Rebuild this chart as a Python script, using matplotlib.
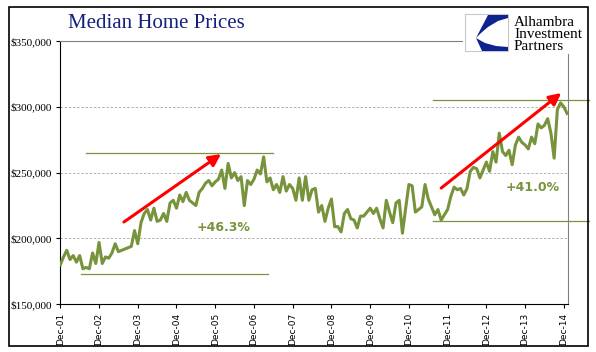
import matplotlib
matplotlib.use("Agg")
import matplotlib.pyplot as plt
from matplotlib.patches import Rectangle, Polygon

# monthly median home price, $000s, Dec-01 onward
prices = [
    180, 186, 191, 184, 187, 182, 187, 177, 178, 177, 189, 181,
    197, 181, 186, 185, 189, 196, 190, 191, 192, 193, 194, 206,
    196, 212, 219, 222, 214, 223, 213, 214, 219, 213, 227, 229,
    223, 233, 228, 235, 229, 227, 225, 235, 238, 242, 244, 240,
    243, 245, 252, 238, 257, 246, 250, 244, 247, 225, 244, 241,
    245, 252, 249, 262, 243, 246, 237, 241, 235, 247, 236, 241,
    238, 229, 246, 229, 247, 229, 237, 238, 220, 225, 213, 223,
    230, 209, 209, 205, 219, 222, 215, 214, 208, 217, 217, 220,
    223, 219, 223, 215, 208, 229, 220, 212, 227, 229, 204, 223,
    241, 240, 220, 222, 224, 241, 230, 224, 218, 222, 214, 218,
    222, 232, 239, 237, 238, 233, 238, 251, 254, 253, 246, 252,
    258, 251, 266, 258, 280, 266, 263, 267, 256, 271, 277, 273,
    271, 268, 277, 272, 287, 284, 286, 291, 280, 261, 298, 303,
    300, 295,
]
tick_labels = ["Dec-%02d" % y for y in range(1, 15)]
y_ticks = [150000, 200000, 250000, 300000, 350000]

# reference levels and the two gains
low1, high1 = 172800, 264700
low2, high2 = 213200, 305200
gain1, gain2 = "+46.3%", "+41.0%"

GREEN = "#77933C"
W, H = 596, 352


def fx(px):
    return px / W


def fy(py):
    return 1 - py / H


fig = plt.figure(figsize=(5.96, 3.52), dpi=100)
ax = fig.add_axes([fx(60.3), fy(304.3), fx(567.7) - fx(60.3), fy(41) - fy(304.3)])

months = list(range(len(prices)))
ax.plot(months, [p * 1000 for p in prices], color=GREEN, lw=2.2, zorder=3,
        solid_joinstyle="round")

ax.set_xlim(0, 157.2)
ax.set_ylim(150000, 350000)

# reference lines
ax.plot([6.4, 64.4], [low1, low1], color=GREEN, lw=0.9, zorder=2)
ax.plot([8, 65.9], [high1, high1], color=GREEN, lw=0.9, zorder=2)
ax.plot([115.5, 163.8], [low2, low2], color=GREEN, lw=0.9, zorder=2, clip_on=False)
ax.plot([115.5, 163.8], [high2, high2], color=GREEN, lw=0.9, zorder=2, clip_on=False)

# arrows
arrow = dict(arrowstyle="-|>,head_length=0.7,head_width=0.35", color="#FF0000",
             lw=2.2, shrinkA=0, shrinkB=0)
ax.annotate("", xy=(49.8, 264100), xytext=(19.7, 212500), arrowprops=arrow, zorder=4)
ax.annotate("", xy=(155.2, 310500), xytext=(118, 238300), arrowprops=arrow,
            zorder=4, annotation_clip=False)

ax.text(50.5, 208000, gain1, color=GREEN, fontsize=9, fontweight="bold",
        ha="center", va="center")
ax.text(146.2, 239000, gain2, color=GREEN, fontsize=9, fontweight="bold",
        ha="center", va="center")

# axes styling
ax.set_yticks(y_ticks)
ax.set_yticklabels(["${:,}".format(v) for v in y_ticks], family="Liberation Serif",
                   fontsize=8)
ax.set_xticks([12 * i for i in range(len(tick_labels))])
ax.set_xticklabels(tick_labels, rotation=90, fontsize=6.5, family="DejaVu Sans")
ax.tick_params(axis="both", direction="out", length=3, width=0.8, pad=3)
for y in y_ticks[1:-1]:
    ax.axhline(y, color="#A6A6A6", lw=0.6, ls=(0, (3, 2)), zorder=1)
ax.spines["left"].set_color("black")
ax.spines["bottom"].set_color("black")
ax.spines["top"].set_color("#808080")
ax.spines["right"].set_color("#808080")
ax.spines["top"].set_linewidth(0.8)
ax.spines["right"].set_linewidth(0.8)

# title
fig.text(fx(156), fy(24), "Median Home Prices", family="Liberation Serif",
         fontsize=15, color="#14207C", ha="center", va="center")

# logo area (covers the plot border behind it)
fig.patches.append(Rectangle((fx(463), fy(54)), fx(587) - fx(463), fy(9) - fy(54),
                             transform=fig.transFigure, facecolor="white",
                             edgecolor="none", zorder=10))
fig.patches.append(Rectangle((fx(465), fy(51)), fx(508) - fx(465), fy(14) - fy(51),
                             transform=fig.transFigure, facecolor="white",
                             edgecolor="#C8C8C8", lw=0.8, zorder=11))
blue = "#0D2490"
upper = [(488, 15), (508, 15), (508, 18), (498, 21), (488, 27), (481, 33), (476, 38)]
lower = [(476, 38), (482, 51), (508, 51), (508, 47), (496, 46), (485, 43)]
for shape in (upper, lower):
    fig.patches.append(Polygon([(fx(a), fy(b)) for a, b in shape], closed=True,
                               transform=fig.transFigure, facecolor=blue,
                               edgecolor="none", zorder=12))
for i, word in enumerate(["Alhambra", "Investment", "Partners"]):
    fig.text(fx(514), fy(22 + 12.3 * i), word, family="Liberation Serif", fontsize=11,
             color="black", ha="left", va="center", zorder=13)

# outer frame
fig.patches.append(Rectangle((fx(9), fy(346)), fx(588) - fx(9), fy(7) - fy(346),
                             transform=fig.transFigure, facecolor="none",
                             edgecolor="black", lw=1.2, zorder=20))

fig.savefig("out.png", dpi=100)
